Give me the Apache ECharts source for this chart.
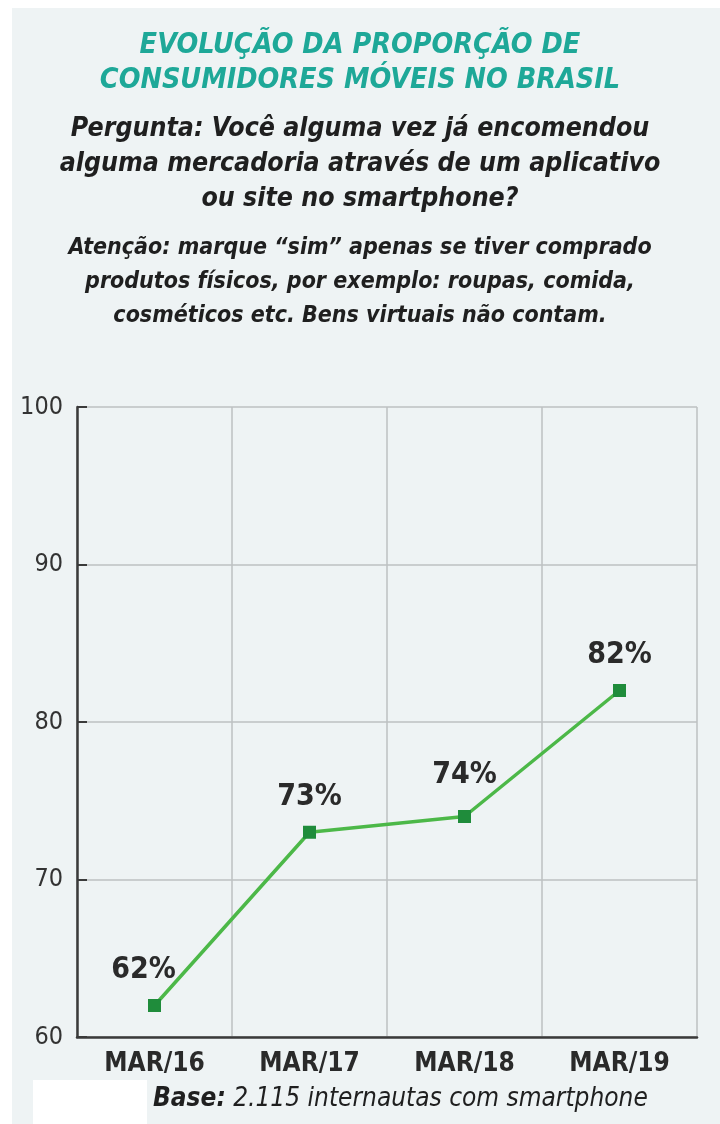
<!DOCTYPE html>
<html>
<head>
<meta charset="utf-8">
<script src="https://cdn.jsdelivr.net/npm/echarts@6/dist/echarts.min.js"></script>
<style>
html,body{margin:0;padding:0;background:#ffffff;}
#chart{width:720px;height:1124px;}
</style>
</head>
<body>
<div id="chart"></div>
<script>
const categories = ['MAR/16', 'MAR/17', 'MAR/18', 'MAR/19'];
const values = [62, 73, 74, 82];
const yTicks = [60, 70, 80, 90, 100];
const titleLines = ['EVOLUÇÃO DA PROPORÇÃO DE', 'CONSUMIDORES MÓVEIS NO BRASIL'];
const questionLines = ['Pergunta: Você alguma vez já encomendou', 'alguma mercadoria através de um aplicativo', 'ou site no smartphone?'];
const noteLines = ['Atenção: marque “sim” apenas se tiver comprado', 'produtos físicos, por exemplo: roupas, comida,', 'cosméticos etc. Bens virtuais não contam.'];
const footerBold = 'Base:';
const footerText = ' 2.115 internautas com smartphone';

const FONT = '"Liberation Sans Narrow", "DejaVu Sans Condensed", "Roboto Condensed", "Liberation Sans", sans-serif';
const labelShift = [[-11, 0], [0, 0], [0, -6], [0, 0]];

const chart = echarts.init(document.getElementById('chart'));

const textEls = [];
titleLines.forEach((t, i) => textEls.push({
  type: 'text', left: 'center', top: 31 + i * 35,
  style: { text: t, fill: '#1ea898', font: 'italic bold 28.5px ' + FONT, textAlign: 'center' }
}));
questionLines.forEach((t, i) => textEls.push({
  type: 'text', left: 'center', top: 116 + i * 35,
  style: { text: t, fill: '#1f1f1f', font: 'italic bold 26.5px ' + FONT, textAlign: 'center' }
}));
noteLines.forEach((t, i) => textEls.push({
  type: 'text', left: 'center', top: 237 + i * 34,
  style: { text: t, fill: '#1f1f1f', font: 'italic bold 23px ' + FONT, textAlign: 'center' }
}));

chart.setOption({
  backgroundColor: '#ffffff',
  animation: false,
  graphic: [
    { type: 'rect', z: -10, shape: { x: 12, y: 8, width: 708, height: 1116 }, style: { fill: '#eef3f4' } },
    { type: 'rect', z: -9, shape: { x: 33, y: 1080, width: 114, height: 44 }, style: { fill: '#ffffff' } },
    ...textEls,
    {
      type: 'text', left: 153, top: 1086,
      style: {
        text: '{b|' + footerBold + '}{r|' + footerText + '}',
        rich: {
          b: { font: 'italic bold 26px ' + FONT, fill: '#1f1f1f' },
          r: { font: 'italic 26px ' + FONT, fill: '#1f1f1f' }
        }
      }
    }
  ],
  grid: { left: 77, right: 23, top: 407, bottom: 87, containLabel: false },
  xAxis: {
    type: 'category',
    data: categories,
    boundaryGap: true,
    axisLine: { lineStyle: { color: '#3a3a3a', width: 2.5 } },
    axisTick: { inside: true, length: 9, lineStyle: { color: '#3a3a3a', width: 2 } },
    axisLabel: { color: '#2a2a2a', fontFamily: FONT, fontWeight: 'bold', fontSize: 26, margin: 14 },
    splitLine: { show: true, lineStyle: { color: '#bcc0c2', width: 1.5 } }
  },
  yAxis: {
    type: 'value',
    min: yTicks[0], max: yTicks[yTicks.length - 1], interval: 10,
    axisLine: { show: true, lineStyle: { color: '#3a3a3a', width: 2.5 } },
    axisTick: { show: true, inside: true, length: 10, lineStyle: { color: '#3a3a3a', width: 2 } },
    axisLabel: { color: '#333333', fontFamily: FONT, fontSize: 25, margin: 14 },
    splitLine: { show: true, lineStyle: { color: '#bcc0c2', width: 1.5 } }
  },
  series: [{
    type: 'line',
    data: values.map((v, i) => ({ value: v, label: { offset: labelShift[i] } })),
    symbol: 'rect',
    symbolSize: 13,
    lineStyle: { color: '#4cb848', width: 3.5 },
    itemStyle: { color: '#1f8c3b' },
    label: {
      show: true, position: 'top', distance: 14,
      formatter: p => p.value + '%',
      color: '#2a2a2a', fontFamily: FONT, fontWeight: 'bold', fontSize: 30
    }
  }]
});
</script>
</body>
</html>
